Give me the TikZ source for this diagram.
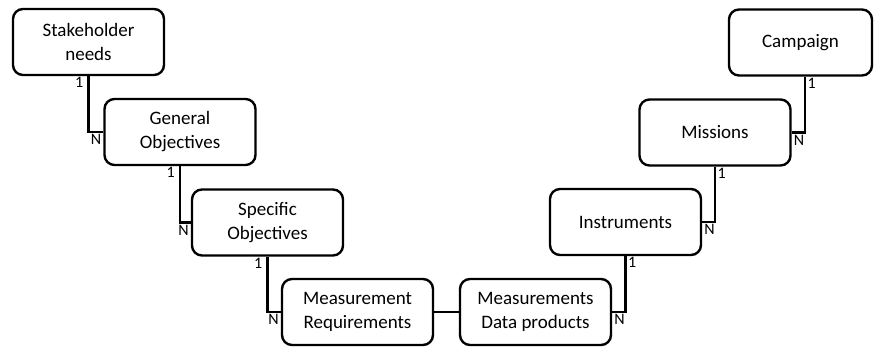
\documentclass[tikz,border=0pt]{standalone}
\usepackage{fontspec}
\setmainfont{Carlito}
\begin{document}
\begin{tikzpicture}[x=1pt,y=-1pt,
	box/.style={draw,line width=2.4pt,rounded corners=10pt,minimum width=151pt,minimum height=66pt,align=center,inner sep=2pt,font=\fontsize{19}{24}\selectfont},
	conn/.style={line width=2.4pt},
	lbl/.style={font=\fontsize{16}{16}\selectfont,inner sep=1pt}]
	\useasboundingbox (0,0) rectangle (875,347);
	% left branch
	\node[box] (stake) at (88.5,42) {Stakeholder\\needs};
	\node[box] (general) at (180,132) {General\\Objectives};
	\node[box] (specific) at (267.5,222.5) {Specific\\Objectives};
	\node[box] (measreq) at (357.5,312) {Measurement\\Requirements};
	% right branch
	\node[box] (dataprod) at (535.5,312) {Measurements\\Data products};
	\node[box] (instr) at (625.5,222) {Instruments};
	\node[box] (missions) at (715,132.5) {Missions};
	\node[box,minimum width=143pt] (campaign) at (800.5,42.5) {Campaign};
	\draw[conn] (measreq.east) -- (dataprod.west);
	\foreach \a/\b in {stake/general,general/specific,specific/measreq}{
		\draw[conn] (\a.south) |- (\b.west);
		\node[lbl,anchor=north east] (\a-one) at ([xshift=-4pt]\a.south) {1};
		\node[lbl,anchor=north east] (\b-n) at ([xshift=-1pt,yshift=-1.5pt]\b.west) {N};
	}
	\foreach \a/\b/\s in {dataprod/instr/0,instr/missions/0,missions/campaign/4.5}{
		\draw[conn] (\a.east) -| ([xshift=\s pt]\b.south);
		\node[lbl,anchor=north west] (\b-one) at ([xshift=\s pt+1.5pt]\b.south) {1};
		\node[lbl,anchor=north west] (\a-n) at ([xshift=1pt,yshift=-1.5pt]\a.east) {N};
	}
\end{tikzpicture}
\end{document}
